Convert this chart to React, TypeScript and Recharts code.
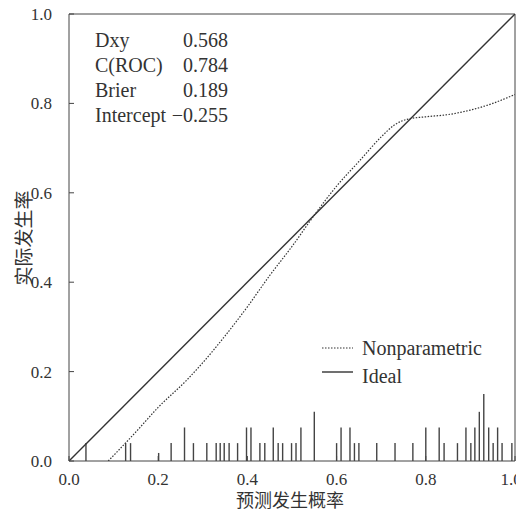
import React from 'react';
import { ComposedChart, Line, XAxis, YAxis, ReferenceLine } from 'recharts';

// nonparametric calibration curve (predicted vs observed)
const nonparX = [0.088, 0.15, 0.2, 0.264, 0.3, 0.35, 0.4, 0.45, 0.5, 0.55, 0.6, 0.65, 0.7, 0.73, 0.76, 0.8, 0.85, 0.9, 0.95, 1.0];
const nonparY = [0, 0.065, 0.12, 0.181, 0.22, 0.28, 0.345, 0.415, 0.48, 0.55, 0.615, 0.67, 0.725, 0.752, 0.765, 0.77, 0.775, 0.785, 0.8, 0.82];

const idealX = [0, 1];
const idealY = [0, 1];

// rug of predicted probabilities: position and relative height
const rugX = [0.038, 0.127, 0.138, 0.201, 0.229, 0.259, 0.279, 0.309, 0.33, 0.339, 0.348, 0.359, 0.378, 0.398, 0.408, 0.428, 0.439, 0.458, 0.469, 0.479, 0.499, 0.509, 0.52, 0.55, 0.6, 0.61, 0.63, 0.64, 0.65, 0.69, 0.731, 0.771, 0.8, 0.83, 0.841, 0.871, 0.89, 0.901, 0.91, 0.92, 0.93, 0.941, 0.951, 0.961, 0.971, 0.993];
const rugH = [0.04, 0.04, 0.04, 0.018, 0.04, 0.075, 0.04, 0.04, 0.04, 0.04, 0.04, 0.04, 0.04, 0.075, 0.075, 0.04, 0.04, 0.075, 0.04, 0.04, 0.04, 0.04, 0.075, 0.11, 0.04, 0.075, 0.075, 0.04, 0.04, 0.04, 0.04, 0.04, 0.075, 0.075, 0.04, 0.04, 0.075, 0.04, 0.075, 0.11, 0.15, 0.075, 0.04, 0.075, 0.04, 0.04];

const ticks = [0, 0.2, 0.4, 0.6, 0.8, 1.0];

const statNames = ['Dxy', 'C(ROC)', 'Brier', 'Intercept'];
const statValues = ['0.568', '0.784', '0.189', '\u22120.255'];

const legendNames = ['Nonparametric', 'Ideal'];

const nonparData = nonparX.map((x, i) => ({ x, y: nonparY[i] }));
const idealData = idealX.map((x, i) => ({ x, y: idealY[i] }));

const serif = "'Liberation Serif', Tinos, 'Times New Roman', 'DejaVu Serif', serif";
const cjk = "'Noto Sans CJK SC', sans-serif";
const ink = '#333';

// x tick: pull the last label in a little so it stays inside the window
const XTick = (props: any) => {
  const { x, y, payload } = props;
  const last = payload.value >= 1;
  return (
    <text x={last ? x - 4 : x} y={y} dy={11} textAnchor="middle" fill={ink} style={{ fontFamily: serif, fontSize: 17 }}>
      {Number(payload.value).toFixed(1)}
    </text>
  );
};

const App: React.FC = () => {
  return (
    <div style={{ position: 'relative', left: -8, top: -8, width: 524, height: 511, fontFamily: serif }}>
      <ComposedChart width={524} height={511} margin={{ top: 14, right: 9, left: 0, bottom: 0 }}>
        <XAxis
          type="number"
          dataKey="x"
          domain={[0, 1]}
          ticks={ticks}
          height={50}
          tickSize={-5}
          tickMargin={18}
          stroke="#444"
          tick={<XTick />}
          interval={0}
          allowDataOverflow
        />
        <YAxis
          type="number"
          dataKey="y"
          domain={[0, 1]}
          ticks={ticks}
          tickFormatter={(v: number) => v.toFixed(1)}
          width={69}
          tickSize={-5}
          tickMargin={22}
          stroke="#444"
          tick={{ fill: ink, fontSize: 17, fontFamily: serif }}
          interval={0}
          allowDataOverflow
        />
        <ReferenceLine y={1} stroke="#444" strokeWidth={1} />
        <ReferenceLine x={1} stroke="#444" strokeWidth={1} />
        {rugX.map((x, i) => (
          <ReferenceLine
            key={`rug-${i}`}
            segment={[{ x, y: 0 }, { x, y: rugH[i] }]}
            stroke="#444"
            strokeWidth={1.4}
          />
        ))}
        <Line
          data={idealData}
          dataKey="y"
          type="linear"
          stroke={ink}
          strokeWidth={1.4}
          dot={false}
          isAnimationActive={false}
        />
        <Line
          data={nonparData}
          dataKey="y"
          type="monotone"
          stroke={ink}
          strokeWidth={1.2}
          strokeDasharray="1.5 1.5"
          dot={false}
          isAnimationActive={false}
        />
      </ComposedChart>
      <svg width={524} height={511} style={{ position: 'absolute', left: 0, top: 0, pointerEvents: 'none' }}>
        {statNames.map((name, i) => (
          <g key={name} style={{ fontFamily: serif, fontSize: 20 }} fill={ink}>
            <text x={95} y={47 + i * 25}>{name}</text>
            <text x={228} y={47 + i * 25} textAnchor="end">{statValues[i]}</text>
          </g>
        ))}
        {legendNames.map((name, i) => (
          <g key={name}>
            <line
              x1={322}
              x2={353}
              y1={348 + i * 24}
              y2={348 + i * 24}
              stroke={ink}
              strokeWidth={i === 0 ? 1.2 : 1.4}
              strokeDasharray={i === 0 ? '1.5 1.5' : undefined}
            />
            <text x={362} y={355 + i * 28} style={{ fontFamily: serif, fontSize: 20 }} fill={ink}>{name}</text>
          </g>
        ))}
        <text x={290} y={507} textAnchor="middle" style={{ fontFamily: cjk, fontSize: 18 }} fill={ink}>预测发生概率</text>
        <text
          x={22}
          y={238}
          textAnchor="middle"
          dominantBaseline="central"
          transform="rotate(-90 22 238)"
          style={{ fontFamily: cjk, fontSize: 19 }}
          fill={ink}
        >
          实际发生率
        </text>
      </svg>
    </div>
  );
};

export default App;
